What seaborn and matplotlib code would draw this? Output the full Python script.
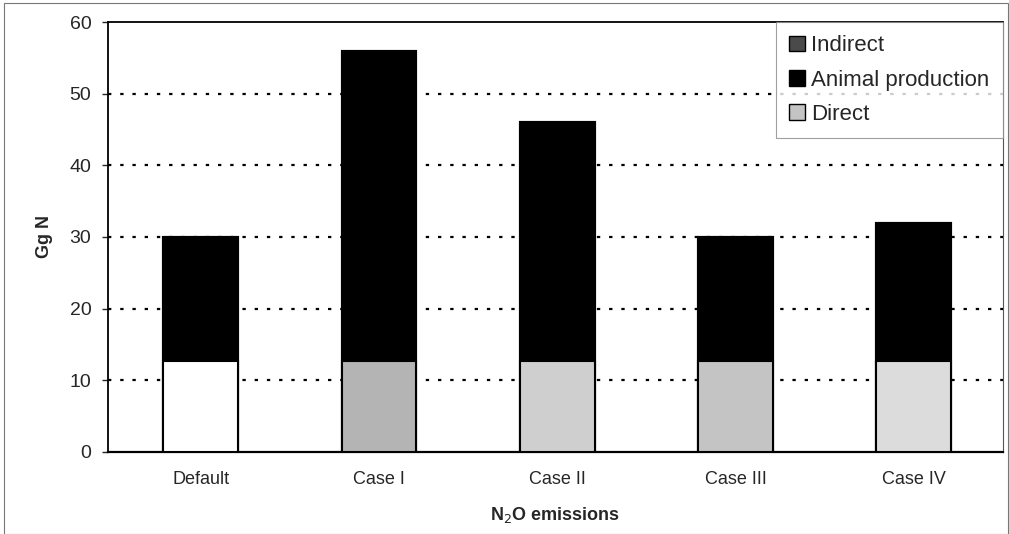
import matplotlib
matplotlib.use("Agg")
import matplotlib.pyplot as plt
import seaborn as sns
import pandas as pd
from matplotlib.patches import Patch, Rectangle

categories = ["Default", "Case I", "Case II", "Case III", "Case IV"]
direct = [12.7, 12.7, 12.7, 12.7, 12.7]
animal = [17.3, 43.3, 33.3, 17.3, 19.3]
indirect = [0.0, 0.0, 0.0, 0.0, 0.0]
direct_colors = ["#ffffff", "#b4b4b4", "#cfcfcf", "#c4c4c4", "#dcdcdc"]

sns.set_style("white")
plt.rcParams['font.family'] = ['Liberation Sans', 'DejaVu Sans']

df = pd.DataFrame({"cat": categories, "direct": direct, "animal": animal, "indirect": indirect})
df["lvl2"] = df["direct"] + df["animal"]
df["lvl3"] = df["lvl2"] + df["indirect"]

fig = plt.figure(figsize=(10.09, 5.34), dpi=100)
ax = fig.add_axes([0.107, 0.1536, 0.887, 0.8052])

w = 0.42
sns.barplot(data=df, x="cat", y="lvl3", color="#4a4a4a", width=w, edgecolor="black", linewidth=1.5, ax=ax, zorder=3)
sns.barplot(data=df, x="cat", y="lvl2", color="#000000", width=w, edgecolor="black", linewidth=1.5, ax=ax, zorder=3)
sns.barplot(data=df, x="cat", y="direct", hue="cat", palette=direct_colors, width=w, edgecolor="black",
            linewidth=1.5, ax=ax, legend=False, zorder=3)

ax.set_ylim(0, 60)
ax.set_xlim(-0.52, 4.5)
ax.set_yticks(range(0, 61, 10))
ax.set_yticklabels([str(v) for v in range(0, 61, 10)], fontsize=14)
ax.tick_params(axis="y", length=4, width=1, direction="out", left=True, pad=8)
ax.tick_params(axis="x", length=0, pad=14, labelsize=13)
for y in range(10, 60, 10):
    ax.axhline(y, color="black", linestyle=(0, (1.5, 4)), linewidth=1.6, zorder=1)
for s in ["left", "bottom", "top", "right"]:
    ax.spines[s].set_visible(True)
    ax.spines[s].set_color("black")
ax.spines["left"].set_linewidth(1.3)
ax.spines["bottom"].set_linewidth(1.6)
ax.spines["top"].set_linewidth(1.3)
ax.spines["right"].set_linewidth(0.8)
ax.spines["right"].set_color("#555555")

ax.set_ylabel("Gg N", fontsize=13, fontweight="bold", labelpad=12)
ax.set_xlabel("N$_2$O emissions", fontsize=13, fontweight="bold", labelpad=12)

handles = [Patch(facecolor="#4a4a4a", edgecolor="black", label="Indirect"),
           Patch(facecolor="#000000", edgecolor="black", label="Animal production"),
           Patch(facecolor="#c4c4c4", edgecolor="black", label="Direct")]
leg = ax.legend(handles=handles, loc="upper right", fontsize=16, frameon=True, fancybox=False,
                edgecolor="#888888", handlelength=0.7, handleheight=0.7, handletextpad=0.3,
                borderaxespad=0.0, borderpad=0.6, labelspacing=0.6, bbox_to_anchor=(1.0, 1.0))
leg.get_frame().set_linewidth(0.8)

fig.patches.append(Rectangle((0.004, 0.0), 0.995, 0.995, transform=fig.transFigure,
                             fill=False, edgecolor="#777777", linewidth=0.8))

fig.savefig("out.png", dpi=100, facecolor="white")
